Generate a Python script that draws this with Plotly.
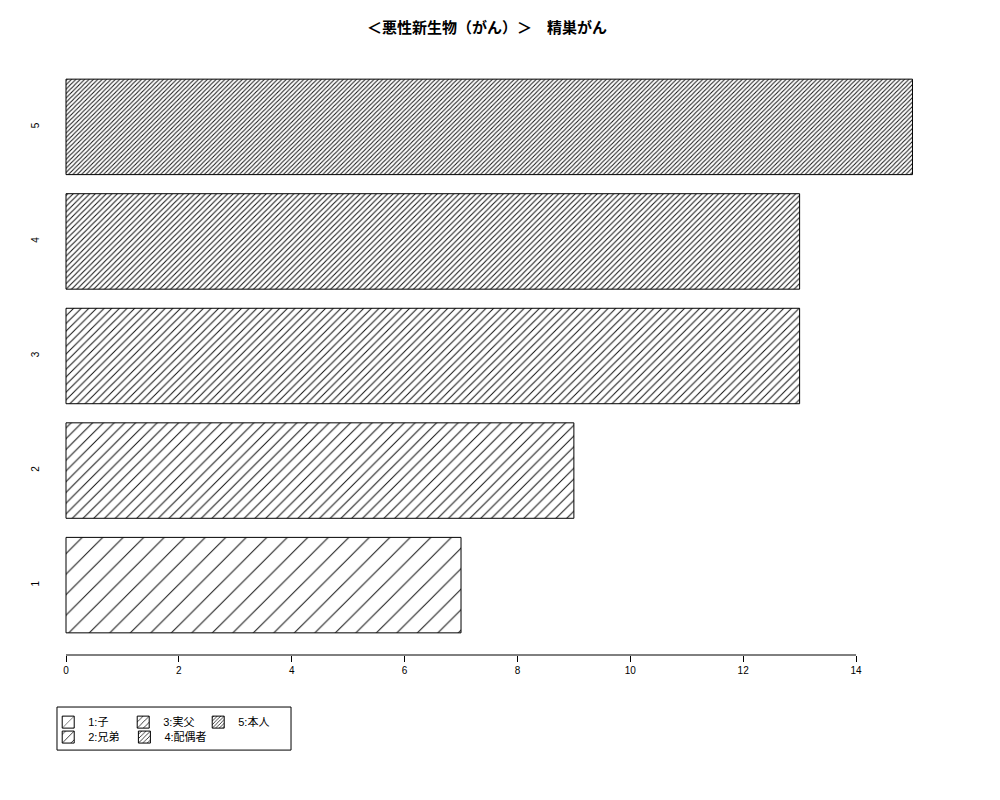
import plotly.graph_objects as go

# data
CATEGORIES = ["1", "2", "3", "4", "5"]
VALUES = [7, 9, 13, 13, 15]
LEGEND_LABELS = ["1:子", "2:兄弟", "3:実父", "4:配偶者", "5:本人"]
X_TICKS = [0, 2, 4, 6, 8, 10, 12, 14]
TITLE = "＜悪性新生物（がん）＞　精巣がん"

# style: hatch spacing per bar (sparse -> dense)
HATCH_SIZES = [14.5, 7.6, 5.4, 3.9, 3.1]
LEGEND_OF = ["legend", "legend2", "legend", "legend2", "legend"]

FONT = "Liberation Sans, Noto Sans CJK JP, sans-serif"

fig = go.Figure()
for cat, val, name, size, lg in zip(CATEGORIES, VALUES, LEGEND_LABELS, HATCH_SIZES, LEGEND_OF):
    fig.add_trace(
        go.Bar(
            x=[val],
            y=[cat],
            orientation="h",
            name=name,
            legend=lg,
            marker=dict(
                color="white",
                line=dict(color="black", width=1),
                pattern=dict(
                    shape="/",
                    size=size,
                    solidity=min(0.45, 1.0 / size),
                    fgcolor="#111111",
                    bgcolor="white",
                    fillmode="replace",
                ),
            ),
        )
    )

# x axis line drawn only across the tick span, like base R
fig.add_shape(
    type="line", xref="x", yref="paper",
    x0=X_TICKS[0], x1=X_TICKS[-1], y0=0, y1=0,
    line=dict(color="black", width=1),
)
# legend frame
fig.add_shape(
    type="rect", xref="paper", yref="paper",
    x0=0.0078, x1=0.269, y0=-0.087, y1=-0.159,
    line=dict(color="black", width=1),
)

legend_style = dict(
    orientation="h",
    xanchor="left",
    yanchor="top",
    font=dict(family=FONT, size=11, color="black"),
    bgcolor="rgba(0,0,0,0)",
    itemclick=False,
)

fig.update_layout(
    width=1000,
    height=800,
    paper_bgcolor="white",
    plot_bgcolor="white",
    margin=dict(l=42, r=62, t=49, b=153),
    font=dict(family=FONT, size=10, color="black"),
    title=dict(
        text="<b>" + TITLE + "</b>",
        x=0.479, xref="container", xanchor="center",
        y=0.975, yref="container", yanchor="middle",
        font=dict(family="Noto Sans CJK JP, sans-serif", size=15, color="black"),
    ),
    bargap=0.1667,
    showlegend=True,
    legend=dict(x=-0.002, y=-0.088, entrywidth=30, entrywidthmode="pixels", **legend_style),
    legend2=dict(x=-0.002, y=-0.113, **legend_style),
    xaxis=dict(
        range=[-0.2835, 15.594],
        tickvals=X_TICKS,
        ticks="outside",
        ticklen=6,
        tickcolor="black",
        showline=False,
        showgrid=False,
        zeroline=False,
        tickfont=dict(size=10),
    ),
    yaxis=dict(
        range=[-0.61, 4.61],
        showline=False,
        showgrid=False,
        zeroline=False,
        ticks="",
        tickangle=-90,
        ticklabelstandoff=8,
        tickfont=dict(size=10),
    ),
)

fig.write_html("out.html")
